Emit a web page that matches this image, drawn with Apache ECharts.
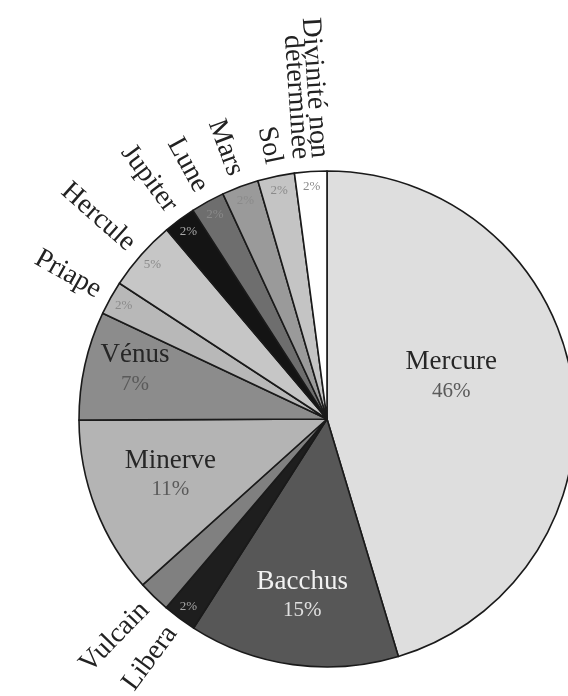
<!DOCTYPE html>
<html>
<head>
<meta charset="utf-8">
<title>Divinités</title>
<script src="https://cdn.jsdelivr.net/npm/echarts@6.0.0/dist/echarts.min.js"></script>
<style>
  html, body { margin: 0; padding: 0; background: #fff; }
  #pie { width: 568px; height: 696px; }
</style>
</head>
<body>
<div id="pie"></div>
<script>
// slices, clockwise from 12 o'clock
const names = ['Mercure', 'Bacchus', 'Libera', 'Vulcain', 'Minerve', 'Vénus', 'Priape',
  'Hercule', 'Jupiter', 'Lune', 'Mars', 'Sol', 'Divinité non déterminée']
// share of the circle
const shares = [45.4, 13.7, 2.2, 2.1, 11.6, 7.1, 2.2, 4.6, 2.1, 2.2, 2.4, 2.4, 2.1]
// percentages as printed on the chart
const pctLabels = ['46%', '15%', '2%', '2%', '11%', '7%', '2%', '5%', '2%', '2%', '2%', '2%', '2%']
const greys = ['#dedede', '#575757', '#1e1e1e', '#808080', '#b4b4b4', '#8c8c8c', '#b8b8b8',
  '#c6c6c6', '#141414', '#6e6e6e', '#9a9a9a', '#c4c4c4', '#ffffff']

// which slices carry which label
const bigOnes = ['Mercure', 'Bacchus', 'Minerve', 'Vénus']
const smallPct = ['Libera', 'Priape', 'Hercule', 'Jupiter', 'Lune', 'Mars', 'Sol', 'Divinité non déterminée']

const cx = 327, cy = 419, R = 248
const serif = '"Liberation Serif", "DejaVu Serif", serif'

// where the big labels sit: [angle from top, part of radius]
const bigSpots = { 'Mercure': [71, 0.53], 'Bacchus': [188, 0.72], 'Minerve': [250.5, 0.67], 'Vénus': [284.5, 0.8] }

const richFor = (name) => {
  const light = name === 'Bacchus'
  return {
    n: { fontFamily: serif, fontSize: 27, lineHeight: 30, color: light ? '#f2f2f2' : '#262626' },
    p: { fontFamily: serif, fontSize: 21, lineHeight: 28, color: light ? '#e0e0e0' : '#5a5a5a' }
  }
}

const myChart = echarts.init(document.querySelector('#pie'))

const mainData = names.map((name, i) => ({
  name,
  value: shares[i],
  itemStyle: { color: greys[i] },
  label: bigOnes.includes(name)
    ? { show: true, formatter: `{n|${name}}\n{p|${pctLabels[i]}}`, rich: richFor(name) }
    : { show: false }
}))

const pctData = names.map((name, i) => ({
  name,
  value: shares[i],
  label: smallPct.includes(name)
    ? { show: true, formatter: pctLabels[i], color: (name === 'Libera' || name === 'Jupiter') ? '#a8a8a8' : '#8a8a8a' }
    : { show: false }
}))

// long name is broken in two lines
const nameData = names.map((name, i) => ({
  name,
  value: shares[i],
  label: { show: !bigOnes.includes(name), formatter: name.replace(' déterminée', '\ndéterminée') }
}))

const option = {
  backgroundColor: '#ffffff',
  animation: false,
  series: [
    {
      type: 'pie',
      center: [cx, cy],
      radius: R,
      startAngle: 90,
      clockwise: true,
      avoidLabelOverlap: false,
      emphasis: { disabled: true },
      itemStyle: { borderColor: '#1a1a1a', borderWidth: 1.6 },
      label: { position: 'inside', overflow: 'none' },
      labelLine: { show: false },
      labelLayout: (p) => {
        const spot = bigSpots[names[p.dataIndex]]
        if (!spot) return { hideOverlap: false }
        const a = spot[0] * Math.PI / 180
        return {
          x: cx + Math.sin(a) * spot[1] * R,
          y: cy - Math.cos(a) * spot[1] * R,
          align: 'center',
          verticalAlign: 'middle',
          hideOverlap: false
        }
      },
      data: mainData
    },
    {
      // thin ring only for the small % near the rim
      type: 'pie',
      center: [cx, cy],
      radius: [212, R],
      startAngle: 90,
      silent: true,
      avoidLabelOverlap: false,
      emphasis: { disabled: true },
      itemStyle: { color: 'rgba(0,0,0,0)', borderWidth: 0 },
      label: { position: 'inside', fontFamily: serif, fontSize: 13, overflow: 'none' },
      labelLine: { show: false },
      labelLayout: { hideOverlap: false },
      data: pctData
    },
    {
      // names of the small slices, written along the radius
      type: 'pie',
      center: [cx, cy],
      radius: R,
      startAngle: 90,
      silent: true,
      avoidLabelOverlap: false,
      emphasis: { disabled: true },
      itemStyle: { color: 'rgba(0,0,0,0)', borderWidth: 0 },
      label: {
        position: 'outside',
        rotate: 'radial',
        fontFamily: serif,
        fontSize: 28,
        lineHeight: 19,
        color: '#222',
        distanceToLabelLine: 0,
        overflow: 'none'
      },
      labelLine: { show: false, length: 13, length2: 0 },
      // v6 hides the two-line label otherwise
      labelLayout: { hideOverlap: false },
      data: nameData
    }
  ]
}

myChart.setOption(option)
</script>
</body>
</html>
